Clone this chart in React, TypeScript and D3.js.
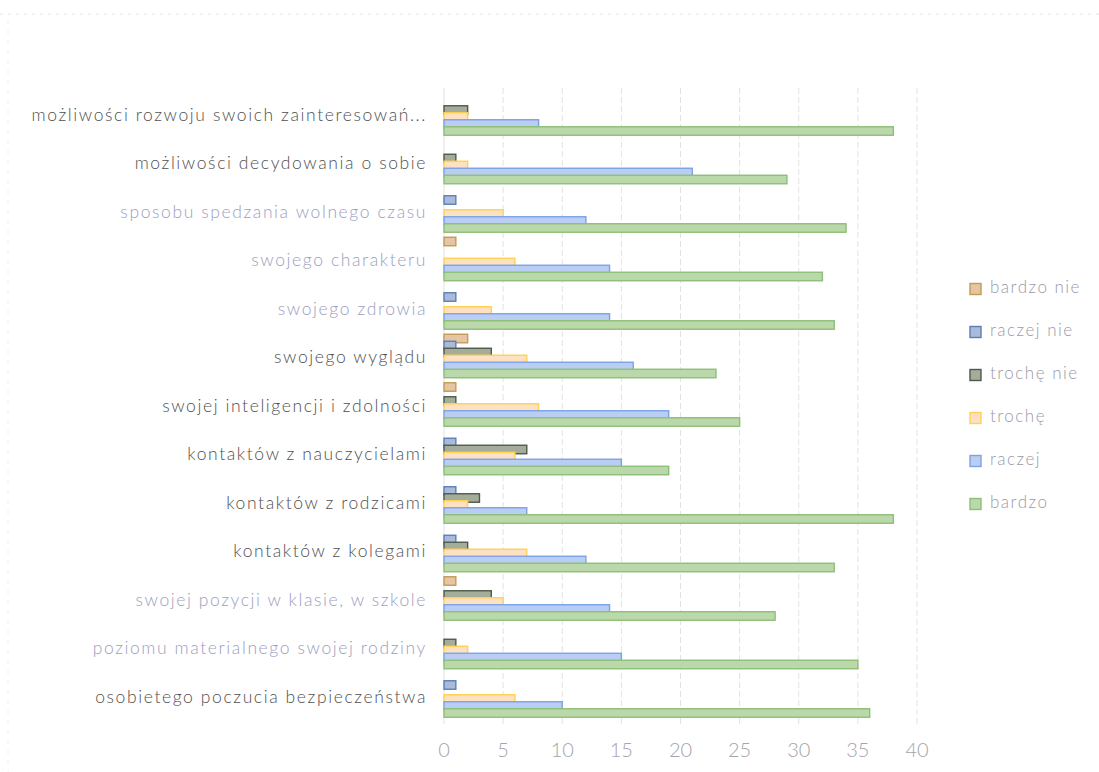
import React from "react";
import * as d3 from "d3";

const categories = [
  "możliwości rozwoju swoich zainteresowań...",
  "możliwości decydowania o sobie",
  "sposobu spedzania wolnego czasu",
  "swojego charakteru",
  "swojego zdrowia",
  "swojego wyglądu",
  "swojej inteligencji i zdolności",
  "kontaktów z nauczycielami",
  "kontaktów z rodzicami",
  "kontaktów z kolegami",
  "swojej pozycji w klasie, w szkole",
  "poziomu materialnego swojej rodziny",
  "osobietego poczucia bezpieczeństwa",
];

const lightLabels = [
  "sposobu spedzania wolnego czasu",
  "swojego charakteru",
  "swojego zdrowia",
  "swojej pozycji w klasie, w szkole",
  "poziomu materialnego swojej rodziny",
];

const seriesNames = ["bardzo nie", "raczej nie", "trochę nie", "trochę", "raczej", "bardzo"];

const bardzoNie = [0, 0, 0, 1, 0, 2, 1, 0, 0, 0, 1, 0, 0];
const raczejNie = [0, 0, 1, 0, 1, 1, 0, 1, 1, 1, 0, 0, 1];
const trocheNie = [2, 1, 0, 0, 0, 4, 1, 7, 3, 2, 4, 1, 0];
const troche = [2, 2, 5, 6, 4, 7, 8, 6, 2, 7, 5, 2, 6];
const raczej = [8, 21, 12, 14, 14, 16, 19, 15, 7, 12, 14, 15, 10];
const bardzo = [38, 29, 34, 32, 33, 23, 25, 19, 38, 33, 28, 35, 36];

const seriesValues = [bardzoNie, raczejNie, trocheNie, troche, raczej, bardzo];

const xTicks = [0, 5, 10, 15, 20, 25, 30, 35, 40];

const fills = ["#e6c6a2", "#a9badb", "#a3ad9a", "#fde1c2", "#bacdf2", "#bad8aa"];
const strokes = ["#c49a58", "#5d7fb6", "#4f5c49", "#ffd24d", "#7ca2e6", "#8dbf79"];

const FONT = "Lato, 'Open Sans', sans-serif";

export default function App() {
  const W = 1099;
  const H = 772;
  const x = d3.scaleLinear().domain([0, 40]).range([444, 917]);
  const y = d3
    .scaleBand<string>()
    .domain(categories)
    .range([89.25, 719.75])
    .padding(0);
  const barStep = 7;
  const barH = 8.5;

  return (
    <svg
      width={W}
      height={H}
      style={{ position: "absolute", left: 0, top: 0, background: "#fff" }}
    >
      <line x1={0} x2={W} y1={14} y2={14} stroke="#e2e2e2" strokeWidth={1} strokeDasharray="3 5" />
      <line x1={8} x2={8} y1={20} y2={H} stroke="#f0f0f0" strokeWidth={1} strokeDasharray="4 6" />
      {xTicks.map((t) => (
        <line
          key={"g" + t}
          x1={x(t)}
          x2={x(t)}
          y1={88}
          y2={724}
          stroke="#e2e2e2"
          strokeWidth={1}
          strokeDasharray={t === 0 ? "" : "6 3"}
        />
      ))}
      {categories.map((c, ci) => {
        const cy = (y(c) as number) + y.bandwidth() / 2;
        return (
          <g key={c}>
            {seriesValues.map((vals, si) => {
              const v = vals[ci];
              if (!v) return null;
              const by = cy + (si - 2.5) * barStep - barH / 2;
              return (
                <rect
                  key={si}
                  x={x(0)}
                  y={by}
                  width={x(v) - x(0)}
                  height={barH}
                  fill={fills[si]}
                  stroke={strokes[si]}
                  strokeWidth={1.4}
                />
              );
            })}
            <text
              x={427}
              y={cy + 3}
              textAnchor="end"
              dominantBaseline="middle"
              fontFamily={FONT}
              fontSize={17.5}
              fontWeight={300}
              letterSpacing={1.6}
              fill={lightLabels.includes(c) ? "#9c9ec0" : "#505050"}
            >
              {c}
            </text>
          </g>
        );
      })}
      {xTicks.map((t) => (
        <text
          key={"t" + t}
          x={x(t)}
          y={752}
          textAnchor="middle"
          dominantBaseline="middle"
          fontFamily={FONT}
          fontSize={20}
          fontWeight={300}
          fill="#a4a4ac"
        >
          {t}
        </text>
      ))}
      {seriesNames.map((s, i) => {
        const ly = 289 + i * 43;
        return (
          <g key={s}>
            <rect
              x={970}
              y={ly - 5.5}
              width={11}
              height={11}
              fill={fills[i]}
              stroke={strokes[i]}
              strokeWidth={1.4}
            />
            <text
              x={990}
              y={ly}
              dominantBaseline="middle"
              fontFamily={FONT}
              fontSize={17}
              fontWeight={300}
              letterSpacing={1.5}
              fill="#9a9aa6"
            >
              {s}
            </text>
          </g>
        );
      })}
    </svg>
  );
}
